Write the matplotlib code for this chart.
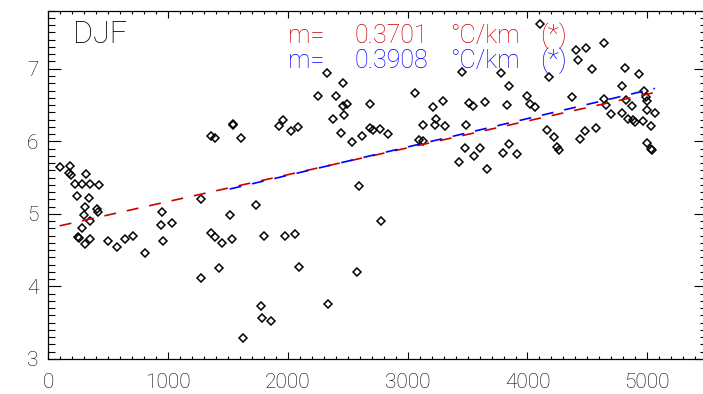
import numpy as np
import matplotlib
matplotlib.use("Agg")
import matplotlib.pyplot as plt
from matplotlib.ticker import MultipleLocator

# station elevation (m) and DJF mean temperature
elev = [95, 178, 170, 192, 312, 225, 284, 351, 423, 240, 340, 304, 409, 415, 295,
        345, 279, 248, 259, 304, 345, 501, 573, 643, 707, 810, 952, 943, 1033, 960,
        1275, 1275, 1355, 1389, 1447, 1514, 1534, 1421, 1539, 1545, 1361, 1389, 1606,
        1959, 1923, 2026, 2087, 1736, 1798, 1976, 2059, 2093, 1773, 1786, 1856, 1625,
        2337, 2574, 2775, 2596,
        2329, 2458, 2254, 2402, 2458, 2493, 2468, 2379, 2441, 2688, 2535, 2616, 2685,
        2713, 2771, 2836, 3058, 3214, 3292, 3234, 3231, 3311, 3125, 3092, 3131,
        3431, 3455, 3484, 3478, 3514, 3548, 3643, 3553, 3606, 3664, 3781, 3848, 3831,
        3798, 3848, 3910, 3993, 4021, 4060, 4101, 4182, 4165, 4221, 4244, 4263,
        4368, 4405, 4424, 4488, 4536, 4641, 4438, 4480, 4574, 4638, 4652, 4700, 4791,
        4810, 4930, 4791, 4820, 4870, 4836, 4884, 4898, 4963, 4971, 4988, 5000, 4995,
        5064, 5029, 5000, 5035, 5040]
temp = [5.64, 5.66, 5.57, 5.53, 5.55, 5.41, 5.41, 5.41, 5.40, 5.25, 5.22, 5.10, 5.07, 5.02, 4.98,
        4.90, 4.81, 4.68, 4.67, 4.59, 4.66, 4.62, 4.55, 4.65, 4.70, 4.46, 5.03, 4.85, 4.88, 4.63,
        5.21, 4.12, 4.73, 4.68, 4.60, 4.98, 4.65, 4.26, 6.24, 6.22, 6.07, 6.04, 6.04,
        6.30, 6.21, 6.14, 6.20, 5.12, 4.69, 4.70, 4.72, 4.27, 3.73, 3.56, 3.53, 3.29,
        3.76, 4.20, 4.90, 5.38,
        6.94, 6.81, 6.62, 6.62, 6.48, 6.51, 6.36, 6.31, 6.11, 6.52, 5.99, 6.08, 6.18,
        6.15, 6.17, 6.10, 6.67, 6.47, 6.55, 6.31, 6.22, 6.21, 6.22, 6.02, 6.00,
        5.71, 6.96, 6.22, 5.91, 6.53, 6.48, 6.54, 5.80, 5.91, 5.62, 6.94, 6.76, 6.50,
        5.84, 5.96, 5.83, 6.62, 6.52, 6.47, 7.61, 6.88, 6.15, 6.06, 5.92, 5.88,
        6.61, 7.26, 7.12, 7.28, 7.00, 7.36, 6.03, 6.14, 6.19, 6.58, 6.50, 6.38, 6.39,
        7.01, 6.93, 6.76, 6.57, 6.48, 6.31, 6.29, 6.27, 6.28, 6.69, 6.61, 6.55, 6.43,
        6.39, 6.21, 5.98, 5.90, 5.88]

# lapse-rate fits (slope in degC per km)
fit_slopes = [0.3701, 0.3908]
fit_icepts = [4.80, 4.75]
fit_xrange = [[95, 5064], [1514, 5064]]
fit_colors = ["#cc0000", "#0000ff"]
fit_labels = ["0.3701", "0.3908"]

plt.rcParams["font.family"] = ["Roboto", "DejaVu Sans"]
plt.rcParams["font.weight"] = "light"
plt.rcParams["lines.scale_dashes"] = False

fig = plt.figure(figsize=(7.03, 3.94), dpi=100)
ax = fig.add_axes([48.3 / 703, 35 / 394, 658.9 / 703, 348.3 / 394])

ax.plot(elev, temp, linestyle="none", marker="D", markersize=3.7,
        markerfacecolor="none", markeredgecolor="black", markeredgewidth=1.1)

for m, b, xr, c in zip(fit_slopes, fit_icepts, fit_xrange, fit_colors):
    xx = np.array(xr, dtype=float)
    ax.plot(xx, b + m * xx / 1000.0, color=c, linewidth=1.2,
            linestyle=(0, (8.6, 7.9)))

# labels for the fits
for i in range(2):
    yb = 7.35 - 0.345 * i
    c = fit_colors[i]
    ax.text(2001, yb, "m=", color=c, fontsize=18, va="baseline")
    ax.text(2560, yb, fit_labels[i], color=c, fontsize=18, va="baseline")
    ax.text(3353, yb, "°C/km", color=c, fontsize=18, va="baseline")
    ax.text(4104, yb, "(*)", color=c, fontsize=19, va="baseline")

ax.text(206, 7.35, "DJF", fontsize=22, va="baseline")

ax.set_xlim(0, 5500)
ax.set_ylim(3, 7.8)
ax.xaxis.set_major_locator(MultipleLocator(1000))
ax.xaxis.set_minor_locator(MultipleLocator(100))
ax.yaxis.set_major_locator(MultipleLocator(1))
ax.yaxis.set_minor_locator(MultipleLocator(0.1))

ax.tick_params(axis="both", which="both", direction="in", top=True, right=True,
               width=0.8, labelsize=15)
ax.tick_params(axis="x", which="major", length=5, pad=10)
ax.tick_params(axis="x", which="minor", length=2.5)
ax.tick_params(axis="y", which="major", length=9.5, pad=7)
ax.tick_params(axis="y", which="minor", length=5)
for s in ax.spines.values():
    s.set_linewidth(0.9)

fig.savefig("out.png", dpi=100)
